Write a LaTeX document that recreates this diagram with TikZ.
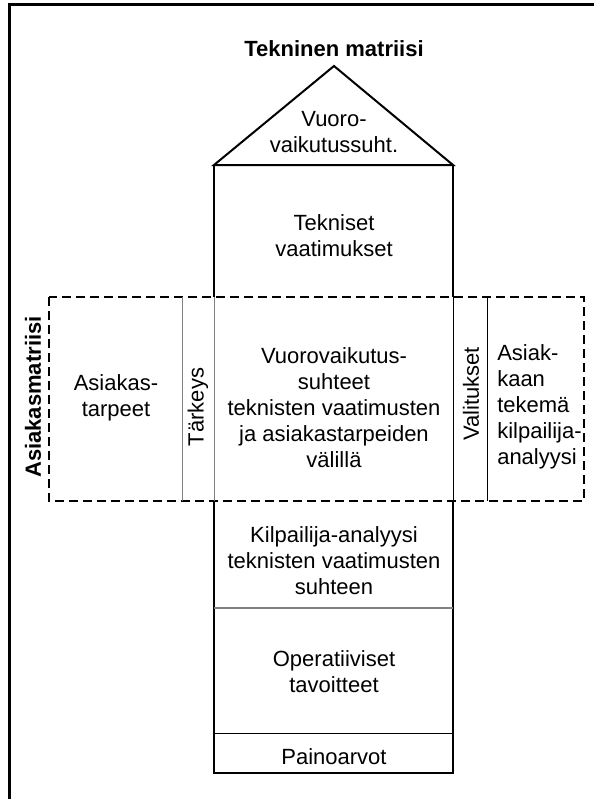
\documentclass[tikz,border=0pt]{standalone}
\usepackage{fontspec}
\setmainfont{Liberation Sans}
\usetikzlibrary{positioning}

\begin{document}
\begin{tikzpicture}[x=0.75pt,y=-0.75pt,
  txt/.style={font=\fontsize{16.5}{19.5}\selectfont, align=center, inner sep=0pt},
  boldtxt/.style={font=\fontsize{16.5}{19.5}\selectfont\bfseries, align=center, inner sep=0pt},
  thickline/.style={line width=1.5pt},
  thinline/.style={line width=0.75pt},
  dashbox/.style={line width=1.5pt, dash pattern=on 6.5pt off 4pt}]
  \useasboundingbox (0,0) rectangle (594,799);
  % outer frame
  \draw[line width=2.25pt] (9,799) -- (9,5) -- (594,5);

  % roof
  \node[boldtxt] (title) at (334,49) {Tekninen matriisi};
  \draw[thickline, line join=miter] (214,165) -- (334,66) -- (453,165) -- cycle;
  \node[txt] (roof) at (334,132) {Vuoro-\\vaikutussuht.};

  % column
  \draw[thickline] (214,165) -- (214,297);
  \draw[thickline] (453,165) -- (453,297);
  \node[txt] (tekn) at (334,236) {Tekniset\\vaatimukset};

  % customer matrix
  \draw[dashbox] (49,297) rectangle (584,501);
  \draw[thinline, gray] (182,297) -- (182,501);
  \draw[thinline, gray] (214,297) -- (214,501);
  \draw[thinline] (453,297) -- (453,501);
  \draw[thinline] (487,297) -- (487,501);
  \node[boldtxt, rotate=90] (amat) at (33,397) {Asiakasmatriisi};
  \node[txt] (tarpeet) at (116,398) {Asiakas-\\tarpeet};
  \node[txt, rotate=90] (tark) at (198,407) {Tärkeys};
  \node[txt] (vuoro) at (334,408) {Vuorovaikutus-\\suhteet\\teknisten vaatimusten\\ja asiakastarpeiden\\välillä};
  \node[txt, rotate=90] (valit) at (471,394) {Valitukset};
  \node[txt, align=left, anchor=west] (asiak) at (497,407) {Asiak-\\kaan\\tekemä\\kilpailija-\\analyysi};

  % lower column
  \draw[thickline] (214,501) -- (214,773) -- (453,773) -- (453,501);
  \node[txt] (kilp) at (334,561) {Kilpailija-analyysi\\teknisten vaatimusten\\suhteen};
  \draw[gray, line width=1.5pt] (214,608) -- (453,608);
  \node[txt] (oper) at (334,672) {Operatiiviset\\tavoitteet};
  \draw[thinline] (214,733) -- (453,733);
  \node[txt] (paino) at (334,757) {Painoarvot};
\end{tikzpicture}
\end{document}
